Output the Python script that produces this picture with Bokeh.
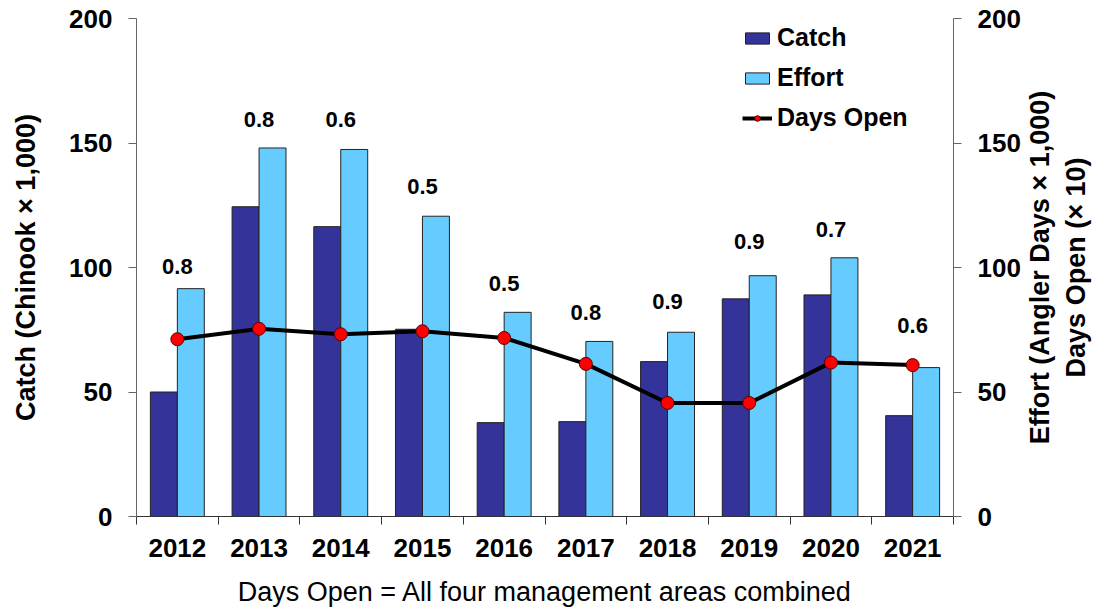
from bokeh.plotting import figure
from bokeh.layouts import row
from bokeh.models import (LinearAxis, FixedTicker, Range1d, ColumnDataSource,
                          Legend, LegendItem)
from bokeh.transform import dodge
from bokeh.embed import file_html
from bokeh.resources import INLINE
from bokeh.core.properties import value

# ---- data ----
years = [2012, 2013, 2014, 2015, 2016, 2017, 2018, 2019, 2020, 2021]
catch = [50.0, 124.4, 116.4, 75.2, 37.7, 38.1, 62.2, 87.4, 89.0, 40.5]
effort = [91.5, 148.0, 147.4, 120.6, 82.0, 70.3, 74.0, 96.7, 103.9, 59.8]
days_open = [71.2, 75.4, 73.2, 74.4, 71.7, 61.3, 45.6, 45.6, 61.8, 60.8]
ratio_labels = ["0.8", "0.8", "0.6", "0.5", "0.5", "0.8", "0.9", "0.9", "0.7", "0.6"]
ratio_label_y = [100.3, 159.6, 159.6, 132.4, 93.7, 81.8, 86.3, 110.3, 115.3, 76.7]
y_ticks = [0, 50, 100, 150, 200]
right_title = ["Effort (Angler Days × 1,000)", "Days Open (× 10)"]

FONT = "Liberation Sans"
n = len(years)
centers = [i + 0.5 for i in range(n)]
boundaries = list(range(n + 1))

src = ColumnDataSource(dict(x=centers, catch=catch, effort=effort,
                            days=days_open, lab=ratio_labels, laby=ratio_label_y))

W1 = 1024
p = figure(width=W1, height=609, output_backend="svg", toolbar_location=None,
           x_range=Range1d(0, n), y_range=Range1d(0, 200),
           min_border_left=136, min_border_right=W1 - 136 - 817, min_border_top=18,
           min_border_bottom=92)
p.xgrid.grid_line_color = None
p.ygrid.grid_line_color = None
p.outline_line_color = None
p.background_fill_color = "white"

bw = 0.33
r_catch = p.vbar(x=dodge("x", -bw / 2, range=p.x_range), top="catch", width=bw,
                 source=src, fill_color="#333399", line_color="#222222", line_width=1)
r_effort = p.vbar(x=dodge("x", bw / 2, range=p.x_range), top="effort", width=bw,
                  source=src, fill_color="#66CCFF", line_color="#222222", line_width=1)
r_line = p.line(x="x", y="days", source=src, line_color="black", line_width=4)
r_pts = p.scatter(x="x", y="days", source=src, marker="circle", size=13,
                  fill_color="#FF0000", line_color="#5a0000", line_width=1)

p.text(x="x", y="laby", text="lab", source=src, text_align="center",
       text_baseline="middle", text_font=value(FONT), text_font_style="bold",
       text_font_size="22px", text_color="black")

# x axis
xa = p.xaxis[0]
xa.ticker = FixedTicker(ticks=centers, minor_ticks=boundaries)
xa.major_label_overrides = {c: str(y) for c, y in zip(centers, years)}
xa.major_tick_out = 0
xa.major_tick_in = 0
xa.minor_tick_out = 8
xa.minor_tick_in = 0
xa.minor_tick_line_color = "#333333"
xa.axis_line_color = "#333333"
xa.major_label_text_font = FONT
xa.major_label_text_font_style = "bold"
xa.major_label_text_font_size = "26px"
xa.major_label_text_color = "black"
xa.major_label_standoff = 14
xa.axis_label = "Days Open = All four management areas combined"
xa.axis_label_text_font = FONT
xa.axis_label_text_font_style = "normal"
xa.axis_label_text_font_size = "27px"
xa.axis_label_text_color = "black"
xa.axis_label_standoff = 17

def style_y(ax):
    ax.ticker = FixedTicker(ticks=y_ticks)
    ax.major_tick_out = 8
    ax.major_tick_in = 0
    ax.minor_tick_line_color = None
    ax.major_tick_line_color = "#666666"
    ax.axis_line_color = "#666666"
    ax.major_label_text_font = FONT
    ax.major_label_text_font_style = "bold"
    ax.major_label_text_font_size = "26px"
    ax.major_label_text_color = "black"
    ax.major_label_standoff = 16
    ax.axis_label_text_font = FONT
    ax.axis_label_text_font_style = "bold"
    ax.axis_label_text_font_size = "27px"
    ax.axis_label_text_color = "black"

ya = p.yaxis[0]
style_y(ya)
ya.axis_label = "Catch (Chinook × 1,000)"
ya.axis_label_standoff = 25

ra = LinearAxis()
style_y(ra)
p.add_layout(ra, "right")

legend = Legend(items=[LegendItem(label="Catch", renderers=[r_catch]),
                       LegendItem(label="Effort", renderers=[r_effort]),
                       LegendItem(label="Days Open", renderers=[r_line, r_pts])],
                location=(606, 384), padding=0, margin=0, spacing=11,
                glyph_width=30, glyph_height=14, label_height=28,
                label_standoff=5, background_fill_alpha=0,
                border_line_color=None,
                label_text_font=FONT, label_text_font_style="bold",
                label_text_font_size="25px", label_text_color="black")
p.add_layout(legend)

# narrow companion figure carrying the right-hand axis title (reads bottom-to-top)
W2 = 1094 - W1
p2 = figure(width=W2, height=609, output_backend="svg", toolbar_location=None,
            x_range=Range1d(0, 1), y_range=Range1d(0, 200),
            min_border_left=W2 - 1, min_border_right=0, min_border_top=18,
            min_border_bottom=92)
p2.xgrid.grid_line_color = None
p2.ygrid.grid_line_color = None
p2.outline_line_color = None
p2.xaxis.visible = False
ta = p2.yaxis[0]
ta.ticker = FixedTicker(ticks=[])
ta.axis_line_color = None
ta.major_tick_line_color = None
ta.minor_tick_line_color = None
ta.major_label_text_font_size = "0px"
ta.axis_label = "\n".join(right_title)
ta.axis_label_text_font = FONT
ta.axis_label_text_font_style = "bold"
ta.axis_label_text_font_size = "27px"
ta.axis_label_text_color = "black"
ta.axis_label_standoff = 4

layout = row(p, p2)
open("out.html", "w").write(file_html(layout, INLINE))
